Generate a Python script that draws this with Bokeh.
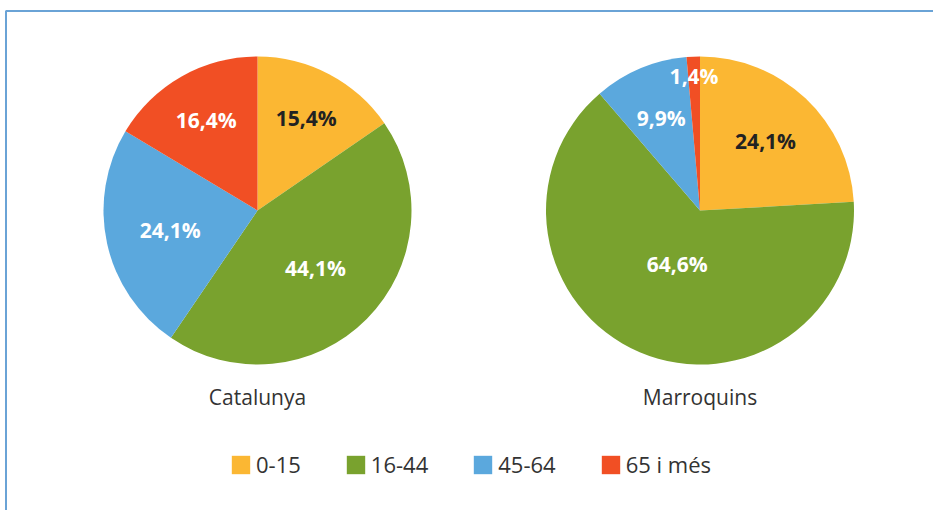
import math
from bokeh.plotting import figure
from bokeh.models import ColumnDataSource, Range1d, Legend, LegendItem
from bokeh.core.properties import value
from bokeh.embed import file_html
from bokeh.resources import INLINE

# ---- data ----
groups = ["Catalunya", "Marroquins"]
age_bands = ["0-15", "16-44", "45-64", "65 i més"]
catalunya = [15.4, 44.1, 24.1, 16.4]
marroquins = [24.1, 64.6, 9.9, 1.4]

# ---- style ----
colors = ["#FBB733", "#79A22E", "#5BA8DD", "#F14F24"]
label_colors = ["#222222", "white", "white", "white"]
label_frac = [[0.68, 0.53, 0.58, 0.675], [0.62, 0.38, 0.65, 0.874]]
W, H = 933, 510
R = 154
centers = [(257, 300), (699.5, 300)]
FONT = "Open Sans"

p = figure(width=W, height=H, output_backend="svg", toolbar_location=None,
           x_range=Range1d(0, W), y_range=Range1d(0, H), min_border=0)
p.axis.visible = False
p.grid.visible = False
p.outline_line_color = None
p.background_fill_color = "white"
p.border_fill_color = "white"

# frame border (top and left edges visible)
p.line(x=[5.5, 5.5, W], y=[0, 499.5, 499.5], line_color="#6AA3D6", line_width=2)

legend_renderer = None
for gi, (name, vals) in enumerate(zip(groups, [catalunya, marroquins])):
    total = sum(vals)
    cx, cy = centers[gi]
    starts, ends, lx, ly, texts = [], [], [], [], []
    cum = 0.0
    for i, v in enumerate(vals):
        a0 = math.pi / 2 - 2 * math.pi * cum / total
        cum += v
        a1 = math.pi / 2 - 2 * math.pi * cum / total
        starts.append(a0)
        ends.append(a1)
        mid = (a0 + a1) / 2
        d = label_frac[gi][i] * R
        lx.append(cx + d * math.cos(mid))
        ly.append(cy + d * math.sin(mid))
        texts.append(f"{v:.1f}%".replace(".", ","))
    src = ColumnDataSource(dict(start=starts, end=ends, color=colors,
                                lx=lx, ly=ly, text=texts, tcolor=label_colors,
                                band=age_bands))
    r = p.wedge(x=cx, y=cy, radius=R, start_angle="start", end_angle="end",
                direction="clock", fill_color="color", line_color=None, source=src)
    if legend_renderer is None:
        legend_renderer = r
    p.text(x="lx", y="ly", text="text", source=src, text_color="tcolor",
           text_font=value(FONT), text_font_style="bold", text_font_size="21px",
           text_align="center", text_baseline="middle")
    p.text(x=[cx], y=[114], text=[name], text_color="#333333",
           text_font=value(FONT), text_font_size="21px",
           text_align="center", text_baseline="middle")

items = [LegendItem(label=b, renderers=[legend_renderer], index=i)
         for i, b in enumerate(age_bands)]
legend = Legend(items=items, orientation="horizontal", location=(229, 31),
                glyph_width=23, glyph_height=23, label_standoff=4, spacing=43,
                padding=0, margin=0, border_line_color=None,
                background_fill_alpha=0,
                label_text_font=FONT, label_text_font_size="22px",
                label_text_color="#333333")
p.add_layout(legend, "center")

open("out.html", "w").write(file_html(p, INLINE))
